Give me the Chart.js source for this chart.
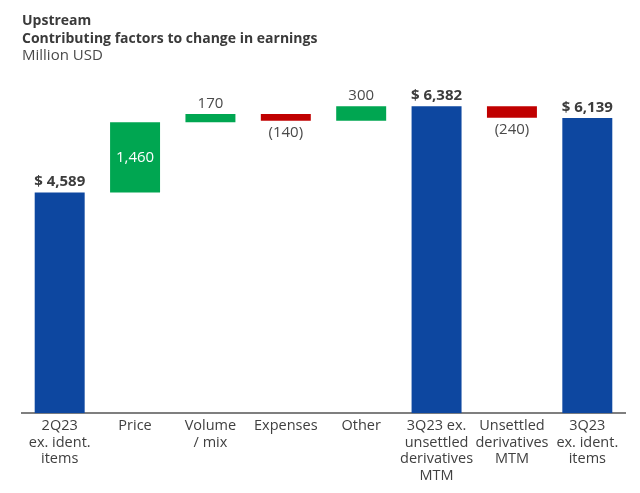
<!DOCTYPE html>
<html><head><meta charset="utf-8">
<script src="https://cdn.jsdelivr.net/npm/chart.js@4"></script>
<style>html,body{margin:0;padding:0;background:#fff}#wrap{width:640px;height:493px}</style>
</head><body><div id="wrap"><canvas id="c" width="640" height="493"></canvas></div>
<script>
const categories = [["2Q23","ex. ident.","items"],"Price",["Volume","/ mix"],"Expenses","Other",["3Q23 ex.","unsettled","derivatives","MTM"],["Unsettled","derivatives","MTM"],["3Q23","ex. ident.","items"]];
const values = [4589, 1460, 170, -140, 300, 6382, -240, 6139];
const kinds = ["total","up","up","down","up","total","down","total"];
const labels = ["$ 4,589","1,460","170","(140)","300","$ 6,382","(240)","$ 6,139"];

const colors = {total:"#0D47A0", up:"#00A651", down:"#C00000"};
let run = 0;
const ranges = values.map((v,i)=>{
  if (kinds[i]==="total"){ run = v; return [0, v]; }
  const r = [run, run+v]; run += v; return r;
});

const labelPlugin = {
  id:"wfLabels",
  afterDatasetsDraw(chart){
    const ctx = chart.ctx;
    const meta = chart.getDatasetMeta(0);
    const y = chart.scales.y;
    ctx.save();
    ctx.textAlign = "center";
    ctx.textBaseline = "alphabetic";
    meta.data.forEach((bar,i)=>{
      const [a,b] = ranges[i];
      const top = y.getPixelForValue(Math.max(a,b));
      const bot = y.getPixelForValue(Math.min(a,b));
      const x = bar.x;
      if (kinds[i]==="total"){
        ctx.font = "bold 15px 'Open Sans', sans-serif";
        ctx.fillStyle = "#3c3c3c";
        ctx.fillText(labels[i], x, top-6);
      } else if (kinds[i]==="up" && (bot-top) > 30){
        ctx.font = "15px 'Open Sans', sans-serif";
        ctx.fillStyle = "#ffffff";
        ctx.textBaseline = "middle";
        ctx.fillText(labels[i], x, (top+bot)/2);
        ctx.textBaseline = "alphabetic";
      } else if (kinds[i]==="up"){
        ctx.font = "15px 'Open Sans', sans-serif";
        ctx.fillStyle = "#4a4a4a";
        ctx.fillText(labels[i], x, top-6);
      } else {
        ctx.font = "15px 'Open Sans', sans-serif";
        ctx.fillStyle = "#4a4a4a";
        ctx.fillText(labels[i], x, bot+16);
      }
    });
    ctx.restore();
  }
};

new Chart(document.getElementById("c"), {
  type:"bar",
  data:{ labels: categories, datasets:[{
    data: ranges,
    backgroundColor: kinds.map(k=>colors[k]),
    borderWidth:0,
    barPercentage: 0.663,
    categoryPercentage: 1.0
  }]},
  plugins:[labelPlugin],
  options:{
    responsive:false, animation:false,
    layout:{ padding:{ left:22, right:15, top:0, bottom:4.5 } },
    plugins:{
      legend:{display:false}, tooltip:{enabled:false},
      title:{ display:true, align:"start", text:["Upstream","Contributing factors to change in earnings"],
        color:"#3a3a3a", font:{family:"'Open Sans', sans-serif", size:14, weight:"bold", lineHeight:1.3}, padding:{top:11.5,bottom:0} },
      subtitle:{ display:true, align:"start", text:"Million USD",
        color:"#4a4a4a", font:{family:"'Open Sans', sans-serif", size:15, weight:"normal", lineHeight:1.0}, padding:{top:0,bottom:13.6} }
    },
    scales:{
      x:{ grid:{display:false, drawTicks:false}, border:{display:true, color:"#7f7f7f", width:2},
        ticks:{ color:"#404040", font:{family:"'Open Sans', sans-serif", size:14.5, lineHeight:1.16}, padding:4, maxRotation:0, autoSkip:false } },
      y:{ display:false, min:0, max:7000 }
    }
  }
});
</script></body></html>
